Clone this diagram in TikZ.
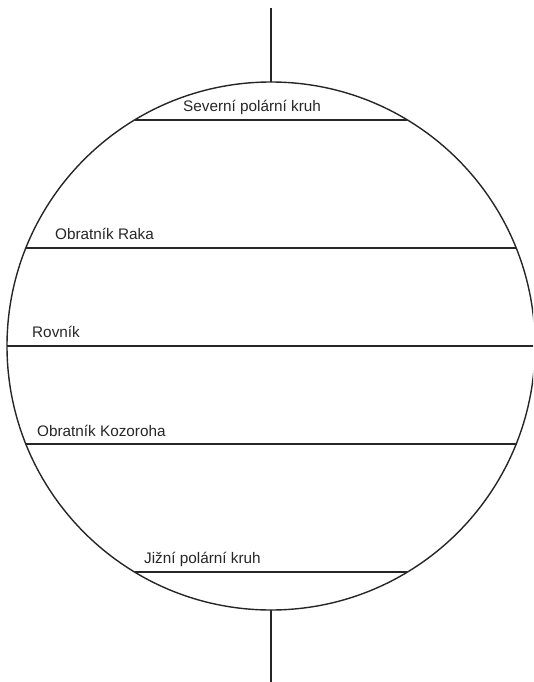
\documentclass[tikz,border=0pt]{standalone}
\usepackage{fontspec}
\setmainfont{Liberation Sans}
\begin{document}
\begin{tikzpicture}[x=1pt,y=-1pt,
  ln/.style={line width=1.4pt,black!85},
  lbl/.style={anchor=base west,inner sep=0pt,font=\fontsize{15.3}{18}\selectfont,text=black!85}]
\useasboundingbox (0,0) rectangle (533,682);
\clip (0,0) rectangle (533,682);
\coordinate (c) at (271,346);
\coordinate (top) at (271,82);
\coordinate (bot) at (271,610);
\coordinate (topend) at (271,8);
\coordinate (botend) at (271,690);
\draw[ln] (c) circle[radius=264];
\draw[ln] (topend) -- (top);
\draw[ln] (bot) -- (botend);
% parallels
\coordinate (n1) at (135,120); \coordinate (n2) at (407,120);
\coordinate (r1) at (26,248);  \coordinate (r2) at (516,248);
\coordinate (e1) at (7,346);   \coordinate (e2) at (540,346);
\coordinate (k1) at (26,444);  \coordinate (k2) at (516,444);
\coordinate (s1) at (135,572); \coordinate (s2) at (407,572);
\draw[ln] (n1) -- (n2);
\draw[ln] (r1) -- (r2);
\draw[ln] (e1) -- (e2);
\draw[ln] (k1) -- (k2);
\draw[ln] (s1) -- (s2);
\node[lbl] (tn) at (183,111) {Severní polární kruh};
\node[lbl] (tr) at (55,239) {Obratník Raka};
\node[lbl] (te) at (32,337) {Rovník};
\node[lbl] (tk) at (37,436) {Obratník Kozoroha};
\node[lbl] (ts) at (144,563) {Jižní polární kruh};
\end{tikzpicture}
\end{document}
